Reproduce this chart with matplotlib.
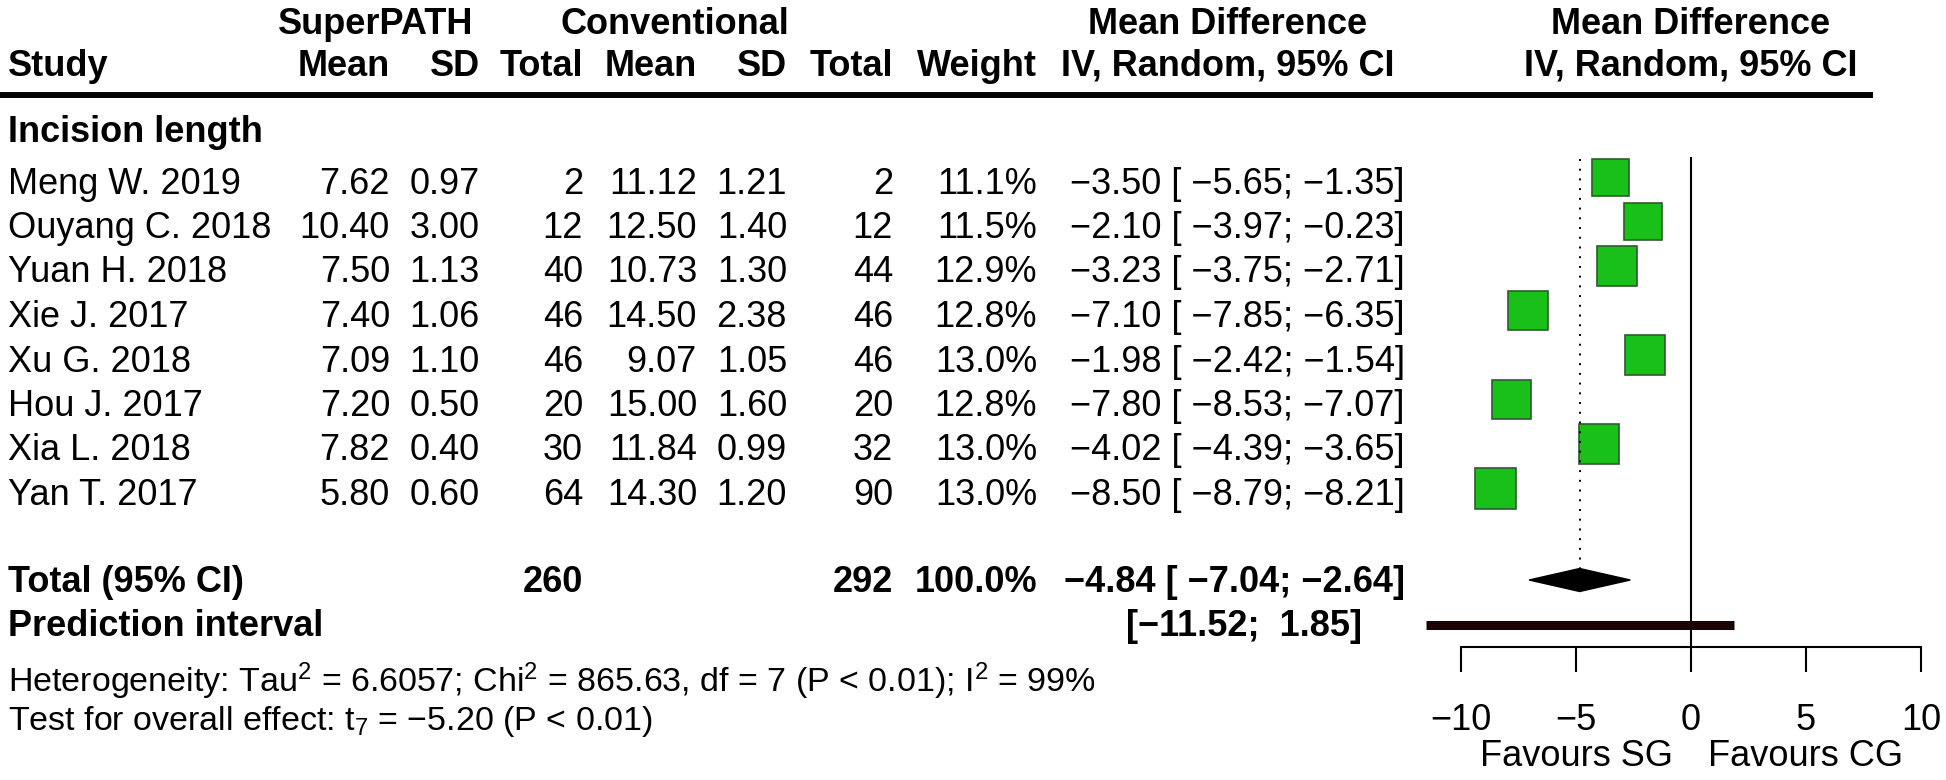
import matplotlib
matplotlib.use("Agg")
import matplotlib.pyplot as plt
from matplotlib.patches import Rectangle, Polygon

plt.rcParams['font.family'] = ['Liberation Sans', 'DejaVu Sans']
plt.rcParams['mathtext.fontset'] = 'custom'
plt.rcParams['mathtext.rm'] = 'Liberation Sans'
plt.rcParams['mathtext.it'] = 'Liberation Sans'

# data
studies = ["Meng W. 2019", "Ouyang C. 2018", "Yuan H. 2018", "Xie J. 2017",
           "Xu G. 2018", "Hou J. 2017", "Xia L. 2018", "Yan T. 2017"]
sp_mean = [7.62, 10.40, 7.50, 7.40, 7.09, 7.20, 7.82, 5.80]
sp_sd = [0.97, 3.00, 1.13, 1.06, 1.10, 0.50, 0.40, 0.60]
sp_n = [2, 12, 40, 46, 46, 20, 30, 64]
cg_mean = [11.12, 12.50, 10.73, 14.50, 9.07, 15.00, 11.84, 14.30]
cg_sd = [1.21, 1.40, 1.30, 2.38, 1.05, 1.60, 0.99, 1.20]
cg_n = [2, 12, 44, 46, 46, 20, 32, 90]
weight = [11.1, 11.5, 12.9, 12.8, 13.0, 12.8, 13.0, 13.0]
md = [-3.50, -2.10, -3.23, -7.10, -1.98, -7.80, -4.02, -8.50]
ci_lo = [-5.65, -3.97, -3.75, -7.85, -2.42, -8.53, -4.39, -8.79]
ci_hi = [-1.35, -0.23, -2.71, -6.35, -1.54, -7.07, -3.65, -8.21]

total_sp, total_cg, total_w = 260, 292, 100.0
pooled_md, pooled_lo, pooled_hi = -4.84, -7.04, -2.64
pi_lo, pi_hi = -11.52, 1.85
het_text = "Heterogeneity: Tau$^2$ = 6.6057; Chi$^2$ = 865.63, df = 7 (P < 0.01); I$^2$ = 99%"
test_text = "Test for overall effect: t$_7$ = \u22125.20 (P < 0.01)"
xticks = [-10, -5, 0, 5, 10]
left_lab, right_lab = "Favours SG", "Favours CG"


def f2(v):
    return f"{v:.2f}".replace("-", "\u2212")


def ci_str(est, lo, hi):
    s = f"[{f2(lo):>6}; {f2(hi):>5}]"
    return s if est is None else f"{f2(est)} {s}"


W, H = 1946, 780
fig = plt.figure(figsize=(W / 100, H / 100), dpi=100)

# text layer in pixel coordinates
tx = fig.add_axes([0, 0, 1, 1])
tx.set_xlim(0, W)
tx.set_ylim(H, 0)
tx.axis("off")

fs = 26
VA = "center_baseline"
row_y = [177 + 44.5 * i for i in range(len(studies))]
y_total, y_pi = 579, 623
cols = {"sp_mean": 390, "sp_sd": 480, "sp_n": 583, "cg_mean": 697,
        "cg_sd": 787, "cg_n": 893, "w": 1037, "ci": 1405}


def put(x, y, s, ha="right", bold=False, size=fs, axes=tx):
    axes.text(x, y, s, ha=ha, va=VA, fontsize=size, weight="bold" if bold else "normal")


# headers
put(376, 20, "SuperPATH", ha="center", bold=True)
put(675, 20, "Conventional", ha="center", bold=True)
put(1228, 20, "Mean Difference", ha="center", bold=True)
put(8, 62, "Study", ha="left", bold=True)
for key, lab in [("sp_mean", "Mean"), ("sp_sd", "SD"), ("sp_n", "Total"),
                 ("cg_mean", "Mean"), ("cg_sd", "SD"), ("cg_n", "Total"), ("w", "Weight")]:
    put(cols[key], 62, lab, bold=True)
put(1228, 62, "IV, Random, 95% CI", ha="center", bold=True)
tx.plot([0, 1873], [95, 95], color="black", lw=4.3, solid_capstyle="butt")

put(8, 129, "Incision length", ha="left", bold=True)

for i, name in enumerate(studies):
    y = row_y[i] + 3
    put(8, y, name, ha="left")
    put(cols["sp_mean"], y, f"{sp_mean[i]:.2f}")
    put(cols["sp_sd"], y, f"{sp_sd[i]:.2f}")
    put(cols["sp_n"], y, str(sp_n[i]))
    put(cols["cg_mean"], y, f"{cg_mean[i]:.2f}")
    put(cols["cg_sd"], y, f"{cg_sd[i]:.2f}")
    put(cols["cg_n"], y, str(cg_n[i]))
    put(cols["w"], y, f"{weight[i]:.1f}%")
    put(cols["ci"], y, ci_str(md[i], ci_lo[i], ci_hi[i]))

put(8, y_total, "Total (95% CI)", ha="left", bold=True)
put(cols["sp_n"], y_total, str(total_sp), bold=True)
put(cols["cg_n"], y_total, str(total_cg), bold=True)
put(cols["w"], y_total, f"{total_w:.1f}%", bold=True)
put(cols["ci"], y_total, ci_str(pooled_md, pooled_lo, pooled_hi), bold=True)
put(8, y_pi, "Prediction interval", ha="left", bold=True)
put(1362, y_pi, ci_str(None, pi_lo, pi_hi), bold=True)

put(8, 676, het_text, ha="left", size=24.5)
put(8, 717, test_text, ha="left", size=24.5)

# forest panel: 23 px per unit, zero at x=1691
x0, x1 = -12.5, 11
ax = fig.add_axes([(1691 + x0 * 23) / W, 0, (x1 - x0) * 23 / W, 1])
ax.set_xlim(x0, x1)
ax.set_ylim(H, 0)
ax.patch.set_visible(False)
for s in ["top", "left", "right"]:
    ax.spines[s].set_visible(False)
ax.spines["bottom"].set_position(("data", 647))
ax.spines["bottom"].set_bounds(xticks[0], xticks[-1])
ax.spines["bottom"].set_linewidth(1.5)
ax.set_xticks(xticks)
ax.tick_params(axis="x", direction="out", length=18, width=1.5, pad=22, labelsize=fs)
ax.tick_params(axis="y", left=False, labelleft=False)

ax.vlines(0, 157, 647, color="black", lw=1.5)
ax.vlines(pooled_md, 159, y_total - 11.5, color="black", lw=1.4, linestyles=[(0, (1, 4))])

for i in range(len(studies)):
    side = 37 * (weight[i] / 11.1) ** 0.5
    ax.add_patch(Rectangle((md[i] - side / 46, row_y[i] - side / 2), side / 23, side,
                           facecolor="#19c019", edgecolor="#2f5a2f", lw=1.2))

ax.add_patch(Polygon([(pooled_lo, y_total + 1), (pooled_md, y_total - 10.5),
                      (pooled_hi, y_total + 1), (pooled_md, y_total + 12.5)],
                     closed=True, facecolor="black", edgecolor="black"))
ax.plot([pi_lo, pi_hi], [y_pi + 2, y_pi + 2], color="#1a0505", lw=6.5, solid_capstyle="butt")

put(0, 20, "Mean Difference", ha="center", bold=True, axes=ax)
put(0, 62, "IV, Random, 95% CI", ha="center", bold=True, axes=ax)
put(-5, 753, left_lab, ha="center", axes=ax)
put(5, 753, right_lab, ha="center", axes=ax)

fig.savefig("out.png", dpi=100)
